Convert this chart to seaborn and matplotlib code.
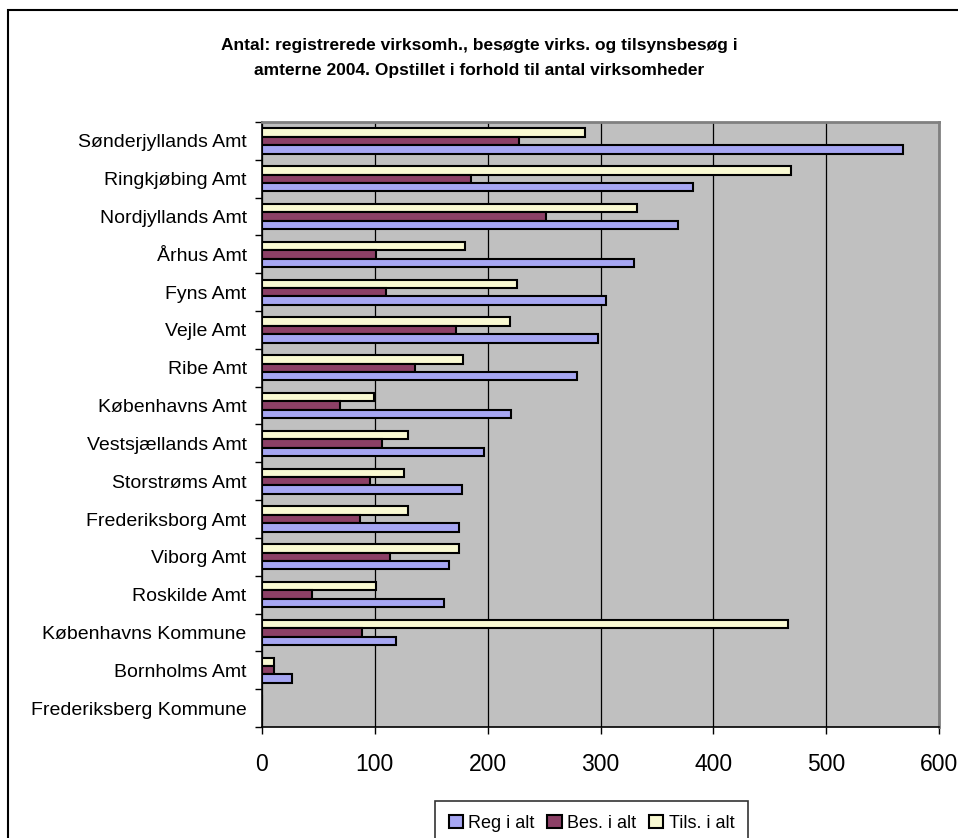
import pandas as pd
import matplotlib
matplotlib.use("Agg")
import matplotlib.pyplot as plt
import seaborn as sns
from matplotlib.patches import Rectangle
from matplotlib.ticker import MultipleLocator, FixedLocator

# ==================== 数据 ====================
amter = [
    "Sønderjyllands Amt", "Ringkjøbing Amt", "Nordjyllands Amt", "Århus Amt",
    "Fyns Amt", "Vejle Amt", "Ribe Amt", "Københavns Amt", "Vestsjællands Amt",
    "Storstrøms Amt", "Frederiksborg Amt", "Viborg Amt", "Roskilde Amt",
    "Københavns Kommune", "Bornholms Amt", "Frederiksberg Kommune",
]
reg_i_alt = [568, 382, 369, 330, 305, 298, 279, 221, 197, 177, 175, 166, 161, 119, 27, 0]
bes_i_alt = [228, 185, 252, 101, 110, 172, 136, 69, 106, 96, 87, 113, 44, 89, 11, 0]
tils_i_alt = [286, 469, 332, 180, 226, 220, 178, 99, 129, 126, 129, 175, 101, 466, 11, 0]

serier = ["Reg i alt", "Bes. i alt", "Tils. i alt"]
farver = {"Reg i alt": "#9999FF", "Bes. i alt": "#993366", "Tils. i alt": "#FFFFCC"}
x_ticks = [0, 100, 200, 300, 400, 500, 600]

titel = ("Antal: registrerede virksomh., besøgte virks. og tilsynsbesøg i\n"
         "amterne 2004. Opstillet i forhold til antal virksomheder")

df = pd.DataFrame({"Amt": amter, "Reg i alt": reg_i_alt,
                   "Bes. i alt": bes_i_alt, "Tils. i alt": tils_i_alt})
df_long = df.melt(id_vars="Amt", var_name="Serie", value_name="Antal")

# ==================== 图 ====================
sns.set_style("white")
plt.rcParams["font.family"] = ["Liberation Sans", "DejaVu Sans"]
plt.rcParams["text.color"] = "black"
plt.rcParams["xtick.color"] = "black"
plt.rcParams["ytick.color"] = "black"

fig = plt.figure(figsize=(9.58, 8.38), dpi=100)
ax = fig.add_axes([262 / 958, 1 - 727 / 838, (939 - 262) / 958, (727 - 122) / 838])
ax.set_facecolor("#C0C0C0")

# Tils øverst i hver gruppe, Reg nederst
sns.barplot(data=df_long, y="Amt", x="Antal", hue="Serie",
            hue_order=["Tils. i alt", "Bes. i alt", "Reg i alt"],
            order=amter, palette=farver, orient="h", width=0.667,
            edgecolor="black", linewidth=1.5, ax=ax, legend=True, zorder=3)

ax.set_xlim(0, 600)
ax.set_ylim(len(amter) - 0.5, -0.5)
ax.xaxis.set_major_locator(FixedLocator(x_ticks))
ax.grid(axis="x", color="black", linewidth=0.9, zorder=0)
ax.set_axisbelow(True)
ax.set_xlabel("")
ax.set_ylabel("")

ax.tick_params(axis="x", labelsize=16.5, length=5, width=1, color="black",
               labelcolor="black", direction="out", pad=14, bottom=True)
ax.tick_params(axis="y", which="major", labelsize=14, length=0, pad=11,
               labelcolor="black")
ax.yaxis.set_minor_locator(MultipleLocator(1, offset=0.5))
ax.tick_params(axis="y", which="minor", length=5, width=1, color="black",
               direction="out", left=True)

for side in ["top", "right"]:
    ax.spines[side].set_color("#808080")
    ax.spines[side].set_linewidth(2)
for side in ["left", "bottom"]:
    ax.spines[side].set_color("black")
    ax.spines[side].set_linewidth(1.2)

# legend: Reg, Bes, Tils
handles, labels = ax.get_legend_handles_labels()
lookup = dict(zip(labels, handles))
ax.get_legend().remove()
leg = fig.legend([lookup[s] for s in serier], serier, loc="upper left",
                 bbox_to_anchor=(435 / 958, 1 - 801 / 838), ncol=3, fontsize=13,
                 frameon=True, fancybox=False, edgecolor="black", handlelength=0.8,
                 handleheight=0.8, handletextpad=0.3, columnspacing=0.7,
                 borderpad=0.75, borderaxespad=0)
leg.get_frame().set_linewidth(1.2)

fig.text(0.5, 1 - 58 / 838, titel, ha="center", va="center", fontsize=12.5,
         fontweight="bold", linespacing=1.85)

# ydre ramme
fig.patches.append(Rectangle((8 / 958, -0.1), 1.2, 1 - 10 / 838 + 0.1,
                             transform=fig.transFigure, fill=False,
                             edgecolor="black", linewidth=1.5))

fig.savefig("out.png", dpi=100)
